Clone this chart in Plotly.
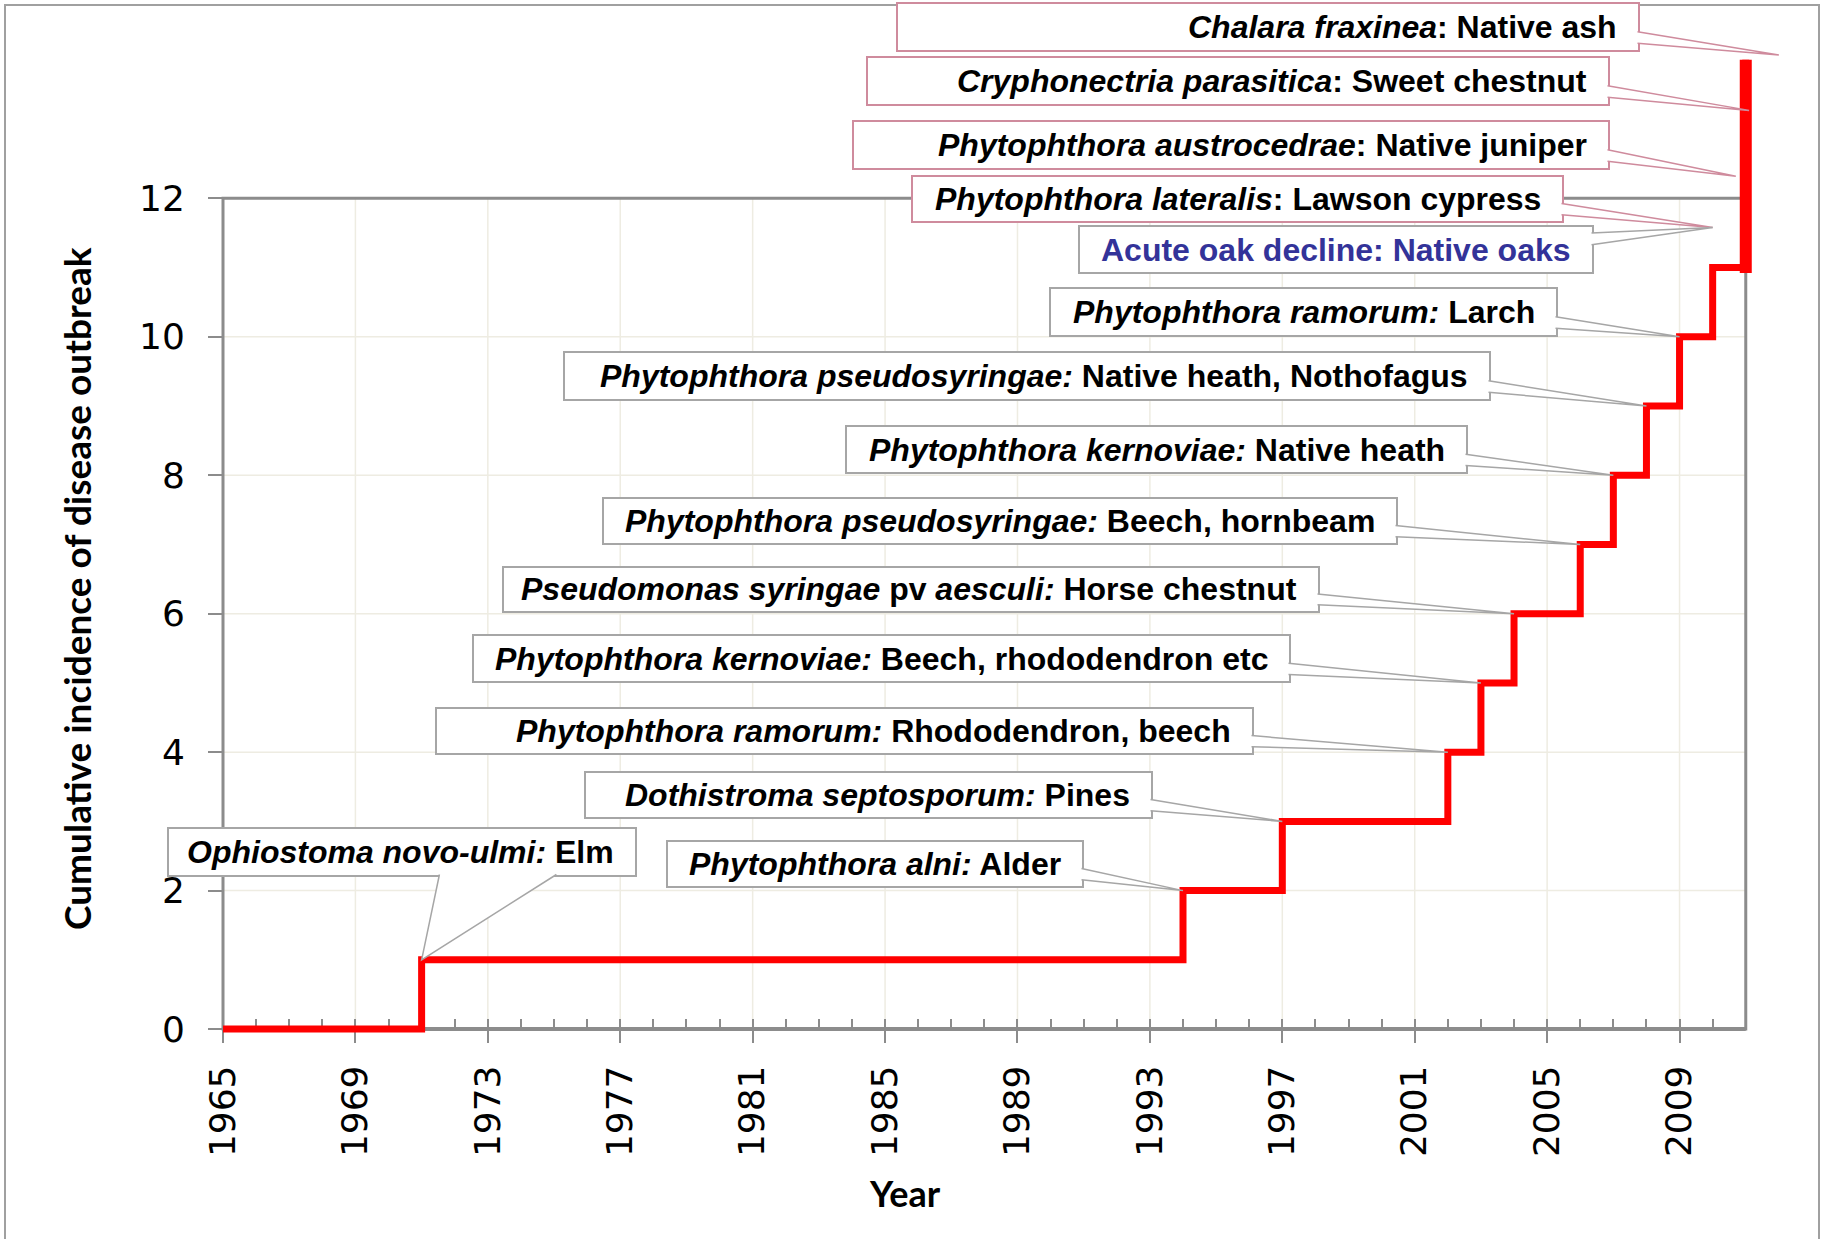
import plotly.graph_objects as go

# cumulative incidence of new tree disease outbreaks (step series)
years = [1965, 1971, 1994, 1997, 2002, 2003, 2004, 2006, 2007, 2008, 2009, 2010, 2011]
cumulative = [0, 1, 2, 3, 4, 5, 6, 7, 8, 9, 10, 11, 14]

x_tick_years = [1965, 1969, 1973, 1977, 1981, 1985, 1989, 1993, 1997, 2001, 2005, 2009]
y_ticks = [0, 2, 4, 6, 8, 10, 12]

# callout labels and the point each one points at
labels = [
    "<i>Chalara fraxinea</i>: Native ash",
    "<i>Cryphonectria parasitica</i>: Sweet chestnut",
    "<i>Phytophthora austrocedrae</i>: Native juniper",
    "<i>Phytophthora lateralis</i>: Lawson cypress",
    "Acute oak decline: Native oaks",
    "<i>Phytophthora ramorum:</i> Larch",
    "<i>Phytophthora pseudosyringae:</i> Native heath, Nothofagus",
    "<i>Phytophthora kernoviae:</i> Native heath",
    "<i>Phytophthora pseudosyringae:</i> Beech, hornbeam",
    "<i>Pseudomonas syringae</i> pv <i>aesculi:</i> Horse chestnut",
    "<i>Phytophthora kernoviae:</i> Beech, rhododendron etc",
    "<i>Phytophthora ramorum:</i> Rhododendron, beech",
    "<i>Dothistroma septosporum:</i> Pines",
    "<i>Phytophthora alni:</i> Alder",
    "<i>Ophiostoma novo-ulmi:</i> Elm",
]
label_years = [2012.0, 2011.1, 2010.7, 2010.0, 2010.0, 2009, 2008, 2007, 2006, 2004, 2003, 2002, 1997, 1994, 1971]
label_values = [14.07, 13.27, 12.32, 11.58, 11.58, 10, 9, 8, 7, 6, 5, 4, 3, 2, 1]

# box layout in pixels: x0, x1, y0, y1
boxes = [
    (897, 1639, 3, 51), (867, 1609, 57, 105), (853, 1609, 121, 169),
    (912, 1563, 176, 222), (1079, 1593, 226, 273), (1050, 1557, 288, 336),
    (564, 1490, 352, 400), (846, 1467, 426, 473), (603, 1397, 498, 544),
    (503, 1319, 567, 612), (473, 1290, 635, 682), (436, 1253, 708, 754),
    (585, 1152, 772, 818), (667, 1083, 841, 887), (168, 636, 828, 876),
]
PINK = "#cf8b9d"
GREY = "#a6a6a6"
box_colors = [PINK] * 4 + [GREY] * 11
text_colors = ["black"] * 4 + ["#333399"] + ["black"] * 10
attach = ["right"] * 14 + ["bottom"]

W, H = 1825, 1239
ML, MR, MT, MB = 223, 66, 46, 203
PW, PH = W - ML - MR, H - MT - MB
X_RANGE = [1965, 2011.4]
Y_RANGE = [-0.1, 14.2]
AXIS = "#8c8c8c"
GRID = "#eeece2"


def px(year, v):
    x = ML + (year - X_RANGE[0]) / (X_RANGE[1] - X_RANGE[0]) * PW
    y = MT + (Y_RANGE[1] - v) / (Y_RANGE[1] - Y_RANGE[0]) * PH
    return x, y


def pp(x, y):
    return (x - ML) / PW, (MT + PH - y) / PH


def line_shape(p0, p1, color, width, layer="below"):
    a, b = pp(*p0), pp(*p1)
    return dict(type="line", xref="paper", yref="paper", x0=a[0], y0=a[1], x1=b[0], y1=b[1],
                line=dict(color=color, width=width), layer=layer)


shapes = []
# outer chart border
o0, o1 = pp(5, 5), pp(1819, 1300)
shapes.append(dict(type="rect", xref="paper", yref="paper", x0=o0[0], y0=o1[1], x1=o1[0], y1=o0[1],
                   line=dict(color="#a0a0a0", width=2), layer="below"))
# grid
for yr in x_tick_years[1:]:
    shapes.append(line_shape(px(yr, 0), px(yr, y_ticks[-1]), GRID, 1.5))
for v in y_ticks[1:-1]:
    shapes.append(line_shape(px(years[0], v), px(years[-1], v), GRID, 1.5))
# plot frame
f0, f1 = pp(*px(years[0], 0)), pp(*px(years[-1], y_ticks[-1]))
shapes.append(dict(type="rect", xref="paper", yref="paper", x0=f0[0], y0=f0[1], x1=f1[0], y1=f1[1],
                   line=dict(color=AXIS, width=3), layer="below"))
shapes.append(line_shape(px(years[0], 0), px(years[-1], 0), AXIS, 4))

annotations = []
for i, text in enumerate(labels):
    x0, x1, y0, y1 = boxes[i]
    c = box_colors[i]
    a, b = pp(x0, y1), pp(x1, y0)
    shapes.append(dict(type="rect", xref="paper", yref="paper", x0=a[0], y0=a[1], x1=b[0], y1=b[1],
                       fillcolor="white", line=dict(color=c, width=2), layer="above"))
    tx, ty = px(label_years[i], label_values[i])
    if attach[i] == "right":
        fr = (0.15, 0.4) if ty < (y0 + y1) / 2 else (0.6, 0.84)
        b1 = (x1 - 1.5, y0 + fr[0] * (y1 - y0))
        b2 = (x1 - 1.5, y0 + fr[1] * (y1 - y0))
    else:
        b1 = (x0 + 0.58 * (x1 - x0), y1 - 1.5)
        b2 = (x0 + 0.83 * (x1 - x0), y1 - 1.5)
    P1, PT, P2 = pp(*b1), pp(tx, ty), pp(*b2)
    shapes.append(dict(type="path", xref="paper", yref="paper",
                       path=f"M {P1[0]},{P1[1]} L {PT[0]},{PT[1]} L {P2[0]},{P2[1]} Z",
                       fillcolor="white", line=dict(width=0), layer="above"))
    shapes.append(dict(type="path", xref="paper", yref="paper",
                       path=f"M {P1[0]},{P1[1]} L {PT[0]},{PT[1]} L {P2[0]},{P2[1]}",
                       fillcolor="rgba(0,0,0,0)", line=dict(color=c, width=1.5), layer="above"))
    ax_, ay_ = pp(x1 - 20, (y0 + y1) / 2)
    annotations.append(dict(xref="paper", yref="paper", x=ax_, y=ay_, xanchor="right", yanchor="middle",
                            text="<b>" + text + "</b>", showarrow=False,
                            font=dict(family="Liberation Sans, Arial", size=32, color=text_colors[i])))

# axis titles
tx_, ty_ = pp(76, 589)
annotations.append(dict(xref="paper", yref="paper", x=tx_, y=ty_, xanchor="center", yanchor="middle",
                        textangle=-90, showarrow=False,
                        text="<b>Cumulative incidence of disease outbreak</b>",
                        font=dict(family="Lato", size=37, color="black")))
tx_, ty_ = pp(905, 1193)
annotations.append(dict(xref="paper", yref="paper", x=tx_, y=ty_, xanchor="center", yanchor="middle",
                        showarrow=False, text="<b>Year</b>",
                        font=dict(family="Lato", size=36, color="black")))

fig = go.Figure()
fig.add_trace(go.Scatter(x=years, y=cumulative, mode="lines",
                         line=dict(color="#ff0000", width=7, shape="hv"), hoverinfo="x+y"))
fig.add_trace(go.Scatter(x=[years[-1], years[-1]], y=[cumulative[-2] - 0.08, cumulative[-1]], mode="lines",
                         line=dict(color="#ff0000", width=12), hoverinfo="skip"))

tickfont = dict(family="DejaVu Sans, Verdana", size=36, color="black")
fig.update_layout(
    width=W, height=H,
    margin=dict(l=ML, r=MR, t=MT, b=MB),
    paper_bgcolor="white", plot_bgcolor="rgba(0,0,0,0)",
    showlegend=False,
    shapes=shapes, annotations=annotations,
    xaxis=dict(range=X_RANGE, tickvals=x_tick_years, tickangle=-90,
               ticks="outside", ticklen=13, tickwidth=2, tickcolor=AXIS,
               minor=dict(tickvals=list(range(years[0], years[-1] + 1)), ticks="inside",
                          ticklen=10, tickwidth=1.5, tickcolor=AXIS, showgrid=False),
               showgrid=False, zeroline=False, showline=False,
               anchor="free", position=(0 - Y_RANGE[0]) / (Y_RANGE[1] - Y_RANGE[0]),
               tickfont=tickfont, ticklabelstandoff=8, layer="below traces"),
    yaxis=dict(range=Y_RANGE, tickvals=y_ticks, ticks="outside", ticklen=14, tickwidth=2,
               tickcolor=AXIS, showgrid=False, zeroline=False, showline=False,
               tickfont=tickfont, ticklabelstandoff=16, layer="below traces"),
)

# drop the default page margin so the figure sits at the window corner
fig.write_html("out.html", config={"displayModeBar": False},
               post_script="document.body.style.margin='0';")
